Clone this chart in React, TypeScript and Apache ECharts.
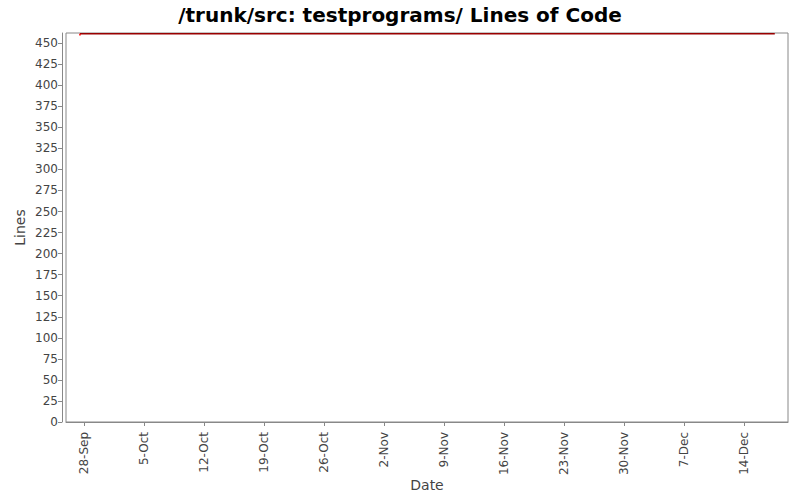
import React, { useEffect, useRef } from 'react';
import * as echarts from 'echarts';

// chart data
const pointDates = ['2008-09-27T12:00:00', '2008-12-17T14:00:00'];
const lineValues = [461, 461];
const tickDates = [
  '2008-09-28', '2008-10-05', '2008-10-12', '2008-10-19', '2008-10-26', '2008-11-02',
  '2008-11-09', '2008-11-16', '2008-11-23', '2008-11-30', '2008-12-07', '2008-12-14',
];
const months = ['Jan', 'Feb', 'Mar', 'Apr', 'May', 'Jun', 'Jul', 'Aug', 'Sep', 'Oct', 'Nov', 'Dec'];
const rangeStart = '2008-09-25T21:00:00';
const rangeEnd = '2008-12-19T03:00:00';
const yMax = 462;

const ts = (s: string) => new Date(s).getTime();

const App: React.FC = () => {
  const chartRef = useRef<HTMLDivElement | null>(null);

  useEffect(() => {
    if (!chartRef.current) return;
    const chart = echarts.init(chartRef.current, null, { renderer: 'svg' });
    const font = 'DejaVu Sans';
    const tickValues = tickDates.map((d) => ts(d + 'T00:00:00'));

    chart.setOption({
      animation: false,
      backgroundColor: '#ffffff',
      title: {
        text: '/trunk/src: testprograms/ Lines of Code',
        left: 'center',
        top: 0,
        textStyle: { fontFamily: font, fontSize: 20, fontWeight: 'bold', color: '#000' },
      },
      grid: {
        left: 66,
        right: 12,
        top: 33,
        bottom: 78,
        outerBoundsMode: 'none',
        containLabel: false,
        show: true,
        borderColor: '#888',
        borderWidth: 1,
        backgroundColor: '#fff',
      },
      xAxis: {
        type: 'value',
        min: ts(rangeStart),
        max: ts(rangeEnd),
        offset: 4,
        name: 'Date',
        nameLocation: 'middle',
        nameGap: 52,
        nameMoveOverlap: false,
        nameTextStyle: { fontFamily: font, fontSize: 14, color: '#444' },
        axisLine: { show: true, lineStyle: { color: '#888' } },
        axisTick: { show: true, customValues: tickValues, length: 4, lineStyle: { color: '#888' } },
        axisLabel: {
          customValues: tickValues,
          rotate: 90,
          fontFamily: font,
          fontSize: 12,
          color: '#444',
          margin: 6,
          formatter: (v: number) => {
            const d = new Date(v);
            return d.getDate() + '-' + months[d.getMonth()];
          },
        },
        splitLine: { show: false },
      },
      yAxis: {
        type: 'value',
        min: 0,
        max: yMax,
        interval: 25,
        offset: 4,
        name: 'Lines',
        nameLocation: 'middle',
        nameGap: 35,
        nameMoveOverlap: false,
        nameTextStyle: { fontFamily: font, fontSize: 14, color: '#444' },
        axisLine: { show: true, lineStyle: { color: '#888' } },
        axisTick: { show: true, length: 4, lineStyle: { color: '#888' } },
        axisLabel: {
          fontFamily: font,
          fontSize: 12,
          color: '#444',
          margin: 4,
          showMaxLabel: false,
        },
        splitLine: { show: false },
      },
      series: [
        {
          type: 'line',
          name: 'Lines of Code',
          step: 'end',
          showSymbol: false,
          data: pointDates.map((d, i) => [ts(d), lineValues[i]]),
          lineStyle: { color: '#990000', width: 1.5 },
          itemStyle: { color: '#990000' },
        },
        {
          type: 'line',
          name: 'start',
          showSymbol: false,
          data: [[ts(pointDates[0]), lineValues[0] - 2], [ts(pointDates[0]), lineValues[0]]],
          lineStyle: { color: '#ff0000', width: 1.5 },
        },
      ],
    });

    return () => {
      chart.dispose();
    };
  }, []);

  return (
    <div
      ref={chartRef}
      style={{ position: 'absolute', left: 0, top: 0, width: 800, height: 500 }}
    />
  );
};

export default App;
